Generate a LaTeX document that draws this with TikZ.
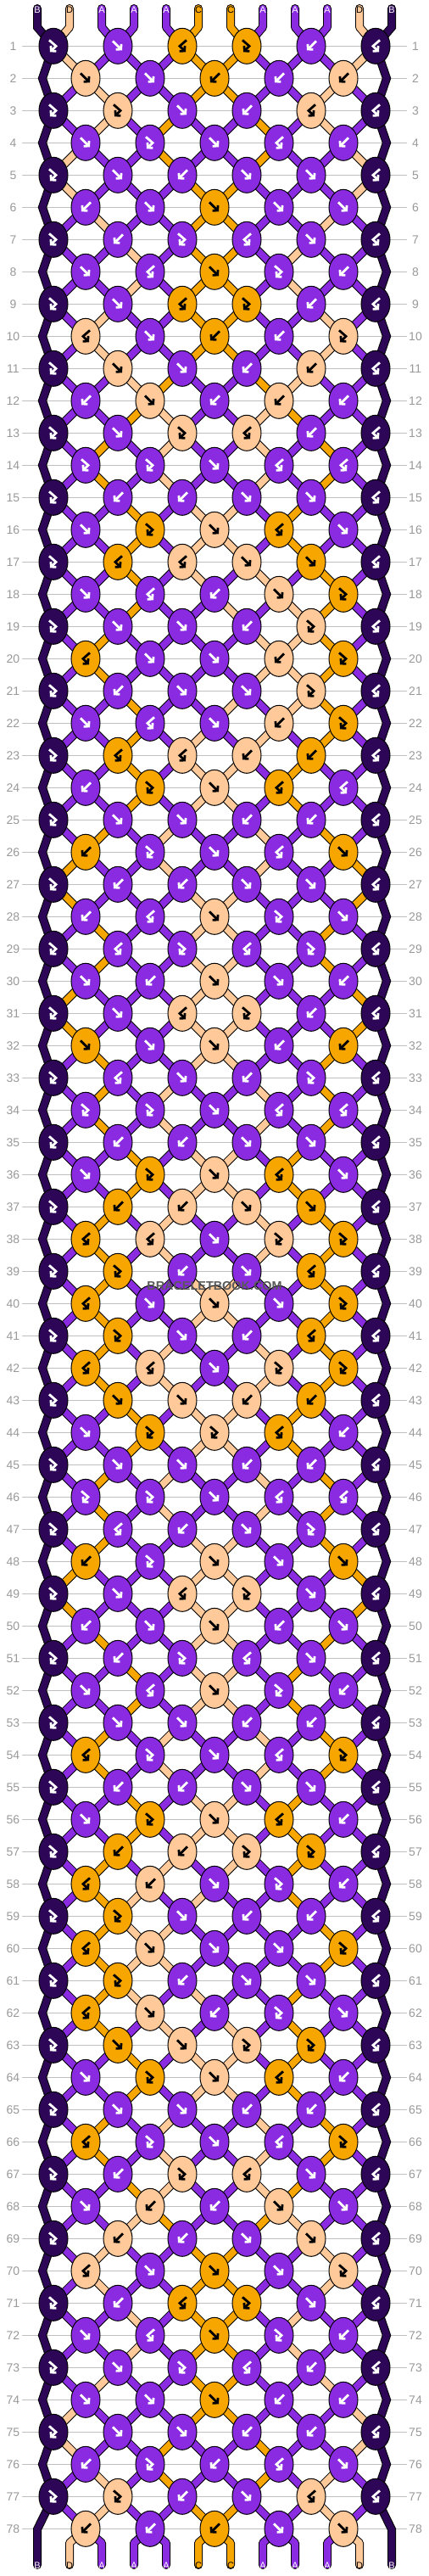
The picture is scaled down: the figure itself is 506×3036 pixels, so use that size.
\documentclass[tikz,border=0pt]{standalone}
\usepackage{fontspec}
\setmainfont{Liberation Sans}
\usetikzlibrary{shapes.geometric,arrows.meta}

\definecolor{threadA}{HTML}{8A2BE2}
\definecolor{threadB}{HTML}{2E0657}
\definecolor{threadC}{HTML}{F7A600}
\definecolor{threadD}{HTML}{FFC999}
\colorlet{iconA}{white}
\colorlet{iconB}{white}
\colorlet{iconC}{black}
\colorlet{iconD}{black}
\definecolor{rulegray}{HTML}{C0C0C0}
\definecolor{numgray}{HTML}{999999}

\pgfdeclarelayer{rules}
\pgfdeclarelayer{rims}
\pgfdeclarelayer{threads}
\pgfsetlayers{rules,rims,threads,main}

% string colours at the top, left to right
\def\startcols{B,D,A,A,A,C,C,A,A,A,D,B}
% knot kinds row by row: f, b, fb, bf
\def\knotrows{%
{fb,f,bf,fb,b,bf},{f,f,b,b,b},{fb,fb,f,b,bf,bf},{f,fb,f,bf,b},{fb,f,b,f,f,bf},{b,f,f,f,f},%
{fb,b,fb,bf,f,bf},{f,bf,f,fb,b},{fb,f,bf,fb,b,bf},{bf,f,b,b,fb},{fb,f,f,b,b,bf},{b,f,b,b,b},%
{fb,f,fb,bf,b,bf},{fb,fb,f,bf,bf},{fb,b,b,f,f,bf},{f,fb,f,bf,f},{fb,bf,bf,f,f,bf},{f,bf,b,f,fb},%
{fb,f,f,b,fb,bf},{bf,f,f,b,fb},{fb,b,f,f,fb,bf},{f,bf,f,b,fb},{fb,bf,bf,b,b,bf},{b,fb,f,bf,bf},%
{fb,f,f,b,b,bf},{b,fb,f,bf,f},{fb,b,b,f,f,bf},{b,bf,f,fb,f},{fb,bf,fb,bf,fb,bf},{f,b,f,f,b},%
{fb,f,bf,fb,b,bf},{f,f,f,b,b},{fb,bf,f,b,fb,bf},{fb,fb,f,bf,bf},{fb,b,b,f,f,bf},{f,fb,f,bf,f},%
{fb,b,b,f,f,bf},{bf,bf,f,fb,fb},{fb,fb,b,f,bf,bf},{bf,f,f,f,fb},{fb,fb,f,b,bf,bf},{bf,bf,f,fb,fb},%
{fb,f,f,b,b,bf},{f,fb,fb,bf,b},{fb,f,f,b,b,bf},{fb,fb,f,bf,bf},{fb,bf,b,f,fb,bf},{b,fb,f,f,f},%
{fb,f,bf,fb,f,bf},{b,f,f,b,f},{fb,b,fb,bf,f,bf},{f,bf,f,fb,b},{fb,f,f,b,b,bf},{bf,fb,f,bf,fb},%
{fb,b,b,f,f,bf},{f,fb,f,bf,b},{fb,b,b,fb,fb,bf},{bf,b,f,fb,b},{fb,fb,f,b,b,bf},{bf,f,f,f,fb},%
{fb,fb,b,f,f,bf},{bf,f,b,fb,f},{fb,f,f,fb,fb,bf},{f,fb,f,bf,b},{fb,f,f,b,b,bf},{bf,fb,f,bf,fb},%
{fb,b,fb,bf,f,bf},{f,b,b,f,f},{fb,b,b,f,f,bf},{bf,f,f,f,fb},{fb,b,bf,fb,f,bf},{f,bf,f,fb,b},%
{fb,f,fb,bf,b,bf},{f,f,f,b,b},{fb,f,f,b,b,bf},{b,fb,b,bf,f},{fb,fb,b,f,bf,bf},{b,b,b,f,f}}
% marks inside the knots
\def\iconf{(-6,-6) -- (5,5)}
\def\iconb{(6,-6) -- (-5,5)}
\def\iconfb{(-5,-7) -- (3,0) -- (-4,7)}
\def\iconbf{(5,-7) -- (-3,0) -- (4,7)}
\def\tf{f}\def\tb{b}\def\tfb{fb}\def\tbf{bf}
\def\swapthreads{\expandafter\xdef\csname st\lp\endcsname{\colR}%
  \expandafter\xdef\csname st\rp\endcsname{\colL}}
% connectors are collected here and drawn on their layers at the end
\def\rimlist{}
\def\threadlist{}
\def\addlink#1#2{%
  \xdef\rimlist{\unexpanded\expandafter{\rimlist}\noexpand\draw[rim] #1 -- (k\row-\kn.center);}%
  \xdef\threadlist{\unexpanded\expandafter{\threadlist}\noexpand\draw[thread,draw=thread#2] #1 -- (k\row-\kn.center);}}

\begin{document}
\begin{tikzpicture}[x=0.5pt,y=-0.5pt,
knot/.style={ellipse,draw=black,line width=0.5pt,inner sep=0pt,minimum width=17pt,minimum height=21pt},
rim/.style={draw=black,line width=5pt,line cap=round,line join=round},
thread/.style={line width=4pt,line cap=round,line join=round},
knotmark/.style={line width=1.4pt,-{Straight Barb[length=2pt,width=4.5pt]}},
rownum/.style={text=numgray,font=\fontsize{7}{8}\selectfont},
endtag/.style={font=\fontsize{5.5}{6}\selectfont,inner sep=0pt}]

\useasboundingbox (0,0) rectangle (506,3036);
\begin{pgfonlayer}{rules}
\fill[white] (0,0) rectangle (506,3036);
\foreach \row in {1,...,78}
  \draw[rulegray,line width=0.5pt] (26,{54.3+38*(\row-1)}) -- (480,{54.3+38*(\row-1)});
\end{pgfonlayer}

% ends of the strings
\foreach \col [count=\i from 0] in \startcols {
  \coordinate (t-\i) at (44+38*\i,10);
  \coordinate (u-\i) at (44+38*\i,32);
  \coordinate (v-\i) at (44+38*\i,2997);
  \coordinate (w-\i) at (44+38*\i,3023);
  \node[endtag,text=icon\col] (lt-\i) at (44+38*\i,12) {\col};
  \expandafter\xdef\csname st\i\endcsname{\col}
  \expandafter\xdef\csname an\i\endcsname{(t-\i) -- (u-\i)}
}
\coordinate (v-0) at (44,2981);
\coordinate (v-11) at (462,2981);

% the knots, row by row
\foreach \kinds [count=\row] in \knotrows {
  \pgfmathsetmacro\ry{54.3+38*(\row-1)}
  \pgfmathtruncatemacro\isodd{mod(\row,2)}
  \node[rownum] (nl-\row) at (15.5,\ry) {\row};
  \node[rownum] (nr-\row) at (490,\ry) {\row};
  \foreach \kind [count=\kn] in \kinds {
    \pgfmathtruncatemacro\lp{2*(\kn-1)+1-\isodd}
    \pgfmathtruncatemacro\rp{\lp+1}
    \pgfmathsetmacro\kx{101+76*(\kn-1)-38*\isodd}
    \edef\colL{\csname st\lp\endcsname}
    \edef\colR{\csname st\rp\endcsname}
    \edef\kt{\kind}
    \let\kc\colR
    \ifx\kt\tf\let\kc\colL\fi
    \ifx\kt\tfb\let\kc\colL\fi
    \node[knot,fill=thread\kc] (k\row-\kn) at (\kx,\ry) {};
    \edef\ic{\csname icon\kt\endcsname}
    \draw[knotmark,draw=icon\kc,shift={(k\row-\kn.center)}] \ic;
    % strings coming in
    \ifnum\lp>0 \edef\src{\csname an\lp\endcsname}\addlink{\src}{\colL}\fi
    \ifnum\rp<11 \edef\src{\csname an\rp\endcsname}\addlink{\src}{\colR}\fi
    \expandafter\xdef\csname an\lp\endcsname{(k\row-\kn.center)}
    \expandafter\xdef\csname an\rp\endcsname{(k\row-\kn.center)}
    \ifx\kt\tf\swapthreads\fi
    \ifx\kt\tb\swapthreads\fi
  }
  \ifnum\isodd=1
    \coordinate (sL-\row) at (k\row-1.center);
    \coordinate (sR-\row) at (k\row-6.center);
  \else
    \coordinate (sL-\row) at (50,\ry);
    \coordinate (sR-\row) at (456,\ry);
  \fi
}

% outlines of all strings
\begin{pgfonlayer}{rims}
\rimlist
\draw[rim,line join=miter] (t-0) -- (u-0) \foreach \row in {1,...,77} {-- (sL-\row)} -- (v-0) -- (w-0);
\draw[rim,line join=miter] (t-11) -- (u-11) \foreach \row in {1,...,77} {-- (sR-\row)} -- (v-11) -- (w-11);
\foreach \p in {1,...,10} {
  \edef\src{\csname an\p\endcsname}
  \draw[rim] \src -- (v-\p) -- (w-\p);
}
\end{pgfonlayer}
% coloured strings
\begin{pgfonlayer}{threads}
\threadlist
\draw[thread,line join=miter,draw=threadB] (t-0) -- (u-0) \foreach \row in {1,...,77} {-- (sL-\row)} -- (v-0) -- (w-0);
\draw[thread,line join=miter,draw=threadB] (t-11) -- (u-11) \foreach \row in {1,...,77} {-- (sR-\row)} -- (v-11) -- (w-11);
\foreach \p in {1,...,10} {
  \edef\src{\csname an\p\endcsname}
  \edef\colP{\csname st\p\endcsname}
  \draw[thread,draw=thread\colP] \src -- (v-\p) -- (w-\p);
}
\end{pgfonlayer}

\foreach \p in {0,...,11} {
  \edef\colP{\csname st\p\endcsname}
  \node[endtag,text=icon\colP] (lb-\p) at (44+38*\p,3024) {\colP};
}

\node[text=black!65,font=\bfseries\fontsize{7.2}{8}\selectfont] (brand) at (253,1516) {BRACELETBOOK.COM};

\end{tikzpicture}
\end{document}
